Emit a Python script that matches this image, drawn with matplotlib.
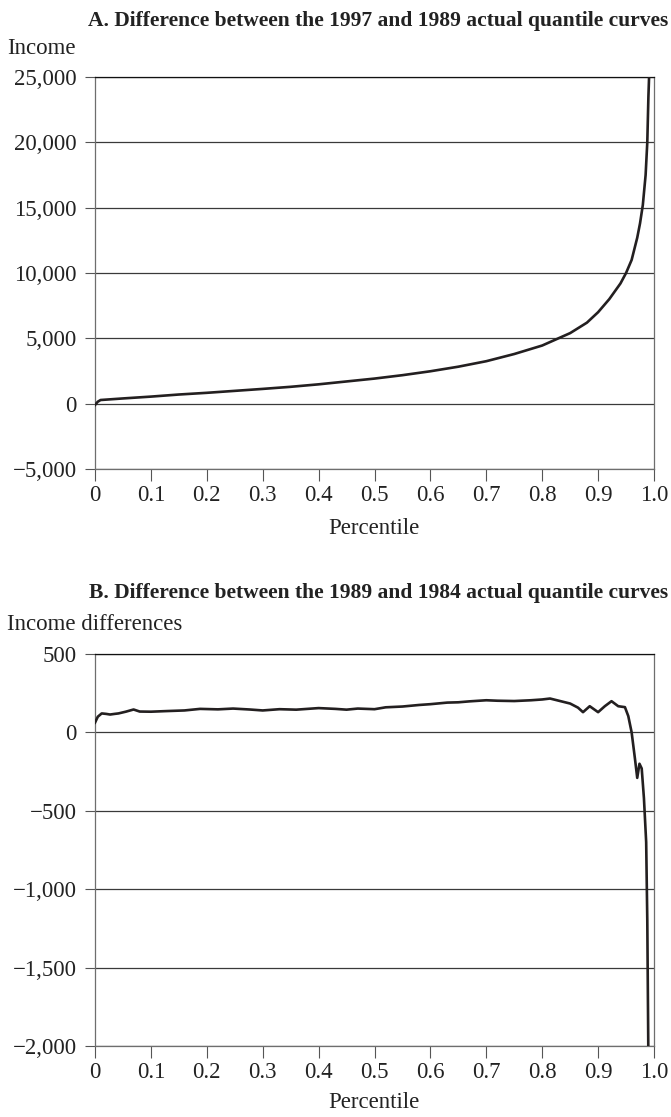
import matplotlib
matplotlib.use("Agg")
import matplotlib.pyplot as plt
from matplotlib.ticker import FuncFormatter

# Panel A: 1997 - 1989 quantile curve difference
pct_a = [0, 0.005, 0.01, 0.05, 0.1, 0.15, 0.2, 0.25, 0.3, 0.35, 0.4, 0.45, 0.5,
         0.55, 0.6, 0.65, 0.7, 0.75, 0.8, 0.85, 0.88, 0.9, 0.92, 0.94, 0.95,
         0.96, 0.97, 0.975, 0.98, 0.985, 0.988, 0.99, 0.992]
diff_a = [-100, 150, 280, 400, 540, 700, 830, 980, 1130, 1290, 1480, 1700, 1920,
          2180, 2480, 2830, 3250, 3800, 4450, 5400, 6200, 7000, 8000, 9200, 10000,
          11000, 12700, 13800, 15200, 17500, 20000, 23500, 26000]

# Panel B: 1989 - 1984 quantile curve difference
pct_b = [0, 0.005, 0.012, 0.02, 0.027, 0.035, 0.042, 0.055, 0.069, 0.08,
         0.1, 0.128, 0.16, 0.188, 0.22, 0.247, 0.277, 0.3, 0.33, 0.36,
         0.4, 0.43, 0.45, 0.47, 0.5, 0.52, 0.55, 0.58, 0.6, 0.63,
         0.65, 0.67, 0.7, 0.72, 0.75, 0.78, 0.8, 0.814, 0.832, 0.85,
         0.864, 0.873, 0.885, 0.9, 0.912, 0.924, 0.936, 0.948, 0.954, 0.96,
         0.966, 0.97, 0.974, 0.978, 0.982, 0.986, 0.988, 0.99]
diff_b = [62, 100, 121, 118, 114, 118, 121, 132, 146, 133,
          132, 136, 140, 150, 147, 152, 146, 140, 148, 145,
          155, 150, 145, 152, 148, 160, 165, 175, 180, 190,
          192, 198, 205, 202, 200, 205, 210, 216, 200, 184,
          158, 129, 167, 129, 167, 199, 167, 161, 104, 0,
          -170, -290, -200, -230, -420, -700, -1200, -2100]

xticks = [0, 0.1, 0.2, 0.3, 0.4, 0.5, 0.6, 0.7, 0.8, 0.9, 1.0]
xlabels = ["0", "0.1", "0.2", "0.3", "0.4", "0.5", "0.6", "0.7", "0.8", "0.9", "1.0"]
yticks_a = [-5000, 0, 5000, 10000, 15000, 20000, 25000]
yticks_b = [-2000, -1500, -1000, -500, 0, 500]

plt.rcParams["font.family"] = ["Liberation Serif", "DejaVu Serif"]
FS = 16.5
TFS = 15.5
W, H = 671, 1117

fig = plt.figure(figsize=(W / 100, H / 100), dpi=100)


def fmt(v, pos):
    return f"{v:,.0f}".replace("-", "\u2212")


def style(ax, yticks):
    ax.set_xlim(0, 1.0)
    ax.set_ylim(yticks[0], yticks[-1])
    ax.set_xticks(xticks)
    ax.set_xticklabels(xlabels)
    ax.set_yticks(yticks)
    ax.yaxis.set_major_formatter(FuncFormatter(fmt))
    for y in yticks:
        ax.axhline(y, color="#3a3a3a", lw=0.9, zorder=1)
    for s in ["left", "right", "bottom"]:
        ax.spines[s].set_color("#6e6e6e")
        ax.spines[s].set_linewidth(0.9)
    ax.spines["top"].set_color("#111111")
    ax.spines["top"].set_linewidth(0.9)
    ax.tick_params(axis="y", direction="out", length=7.2, width=0.8,
                   color="#555555", pad=6, labelsize=FS, labelcolor="#222222")
    ax.tick_params(axis="x", direction="out", length=8.5, width=0.8,
                   color="#555555", pad=3, labelsize=FS, labelcolor="#222222")


def box(top, bottom):
    return [95 / W, 1 - bottom / H, 559 / W, (bottom - top) / H]


ax1 = fig.add_axes(box(77, 469))
style(ax1, yticks_a)
ax1.plot(pct_a, diff_a, color="#231f20", lw=1.9, zorder=3,
         solid_joinstyle="round")

ax2 = fig.add_axes(box(654, 1046))
style(ax2, yticks_b)
ax2.plot(pct_b, diff_b, color="#231f20", lw=1.9, zorder=3,
         solid_joinstyle="round")

# titles and labels
fig.text(668 / W, 1 - 21 / H,
         "A. Difference between the 1997 and 1989 actual quantile curves",
         ha="right", va="center", fontsize=TFS, fontweight="bold", color="#222222")
fig.text(7 / W, 1 - 48 / H, "Income", ha="left", va="center",
         fontsize=FS, color="#222222")
fig.text(374 / W, 1 - 528 / H, "Percentile", ha="center", va="center",
         fontsize=FS, color="#222222")

fig.text(668 / W, 1 - 593 / H,
         "B. Difference between the 1989 and 1984 actual quantile curves",
         ha="right", va="center", fontsize=TFS, fontweight="bold", color="#222222")
fig.text(7 / W, 1 - 625 / H, "Income differences", ha="left", va="center",
         fontsize=FS, color="#222222")
fig.text(374 / W, 1 - 1103 / H, "Percentile", ha="center", va="center",
         fontsize=FS, color="#222222")

fig.savefig("out.png", dpi=100)
